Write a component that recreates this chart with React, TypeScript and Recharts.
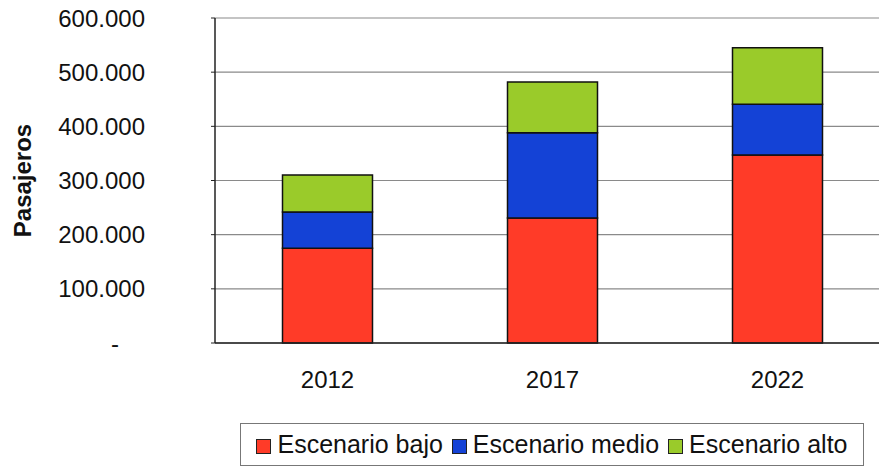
import { BarChart, Bar, XAxis, YAxis, CartesianGrid } from "recharts";

const years = ["2012", "2017", "2022"];
const bajo = [175000, 231000, 347000];
const medio = [67000, 157000, 94000];
const alto = [68000, 94000, 104000];
const yTicks = [0, 100000, 200000, 300000, 400000, 500000, 600000];

const seriesNames = ["Escenario bajo", "Escenario medio", "Escenario alto"];
const colors = ["#FF3B28", "#1442D6", "#9ACB2A"];
const keys = ["bajo", "medio", "alto"];

const data = years.map((y, i) => ({ year: y, bajo: bajo[i], medio: medio[i], alto: alto[i] }));

const font = "'Liberation Sans', Arial, sans-serif";

const fmt = (v: number) => (v === 0 ? "-" : v.toLocaleString("de-DE"));

const YTick = (props: any) => {
  const { x, y, payload } = props;
  const v = payload.value;
  return (
    <text
      x={v === 0 ? x - 26 : x}
      y={y}
      textAnchor="end"
      dominantBaseline="central"
      fontSize={24}
      fontFamily={font}
      fill="#111"
    >
      {fmt(v)}
    </text>
  );
};

const XTick = (props: any) => {
  const { x, y, payload } = props;
  return (
    <text x={x} y={y + 45} textAnchor="middle" fontSize={24} fontFamily={font} fill="#111">
      {payload.value}
    </text>
  );
};

export default function App() {
  return (
    <div style={{ position: "absolute", left: 0, top: 0, width: 879, height: 467, overflow: "hidden", background: "#fff" }}>
      <BarChart
        width={890}
        height={467}
        data={data}
        margin={{ top: 18, right: 0, left: 0, bottom: 0 }}
        barCategoryGap="30%"
      >
        <CartesianGrid vertical={false} stroke="#8a8a8a" strokeWidth={1.2} />
        <XAxis
          dataKey="year"
          tick={<XTick />}
          tickLine={false}
          tickSize={0}
          tickMargin={0}
          axisLine={{ stroke: "#222", strokeWidth: 1.5 }}
          height={124}
        />
        <YAxis
          width={215}
          domain={[0, 600000]}
          ticks={yTicks}
          interval={0}
          tick={<YTick />}
          tickSize={4}
          tickMargin={66}
          tickLine={{ stroke: "#222" }}
          axisLine={{ stroke: "#222", strokeWidth: 1.5 }}
          label={{
            value: "Pasajeros",
            angle: -90,
            position: "insideLeft",
            offset: 0,
            dx: 22,
            dy: 0,
            style: { fontSize: 24, fontWeight: "bold", fontFamily: font, fill: "#111", textAnchor: "middle" },
          }}
        />
        {keys.map((k, i) => (
          <Bar
            key={k}
            dataKey={k}
            stackId="a"
            fill={colors[i]}
            stroke="#111"
            strokeWidth={1.5}
            isAnimationActive={false}
          />
        ))}
      </BarChart>
      <div
        style={{
          position: "absolute",
          left: 240,
          top: 423,
          width: 622,
          height: 41,
          border: "1px solid #777",
          display: "flex",
          alignItems: "center",
          justifyContent: "center",
          gap: 9,
          fontFamily: font,
          fontSize: 25,
          color: "#111",
          whiteSpace: "nowrap",
        }}
      >
        {seriesNames.map((n, i) => (
          <span key={n} style={{ display: "flex", alignItems: "center" }}>
            <span
              style={{
                display: "inline-block",
                width: 13,
                height: 13,
                background: colors[i],
                border: "1px solid #222",
                marginRight: 6,
                marginTop: 4,
              }}
            />
            {n}
          </span>
        ))}
      </div>
    </div>
  );
}
